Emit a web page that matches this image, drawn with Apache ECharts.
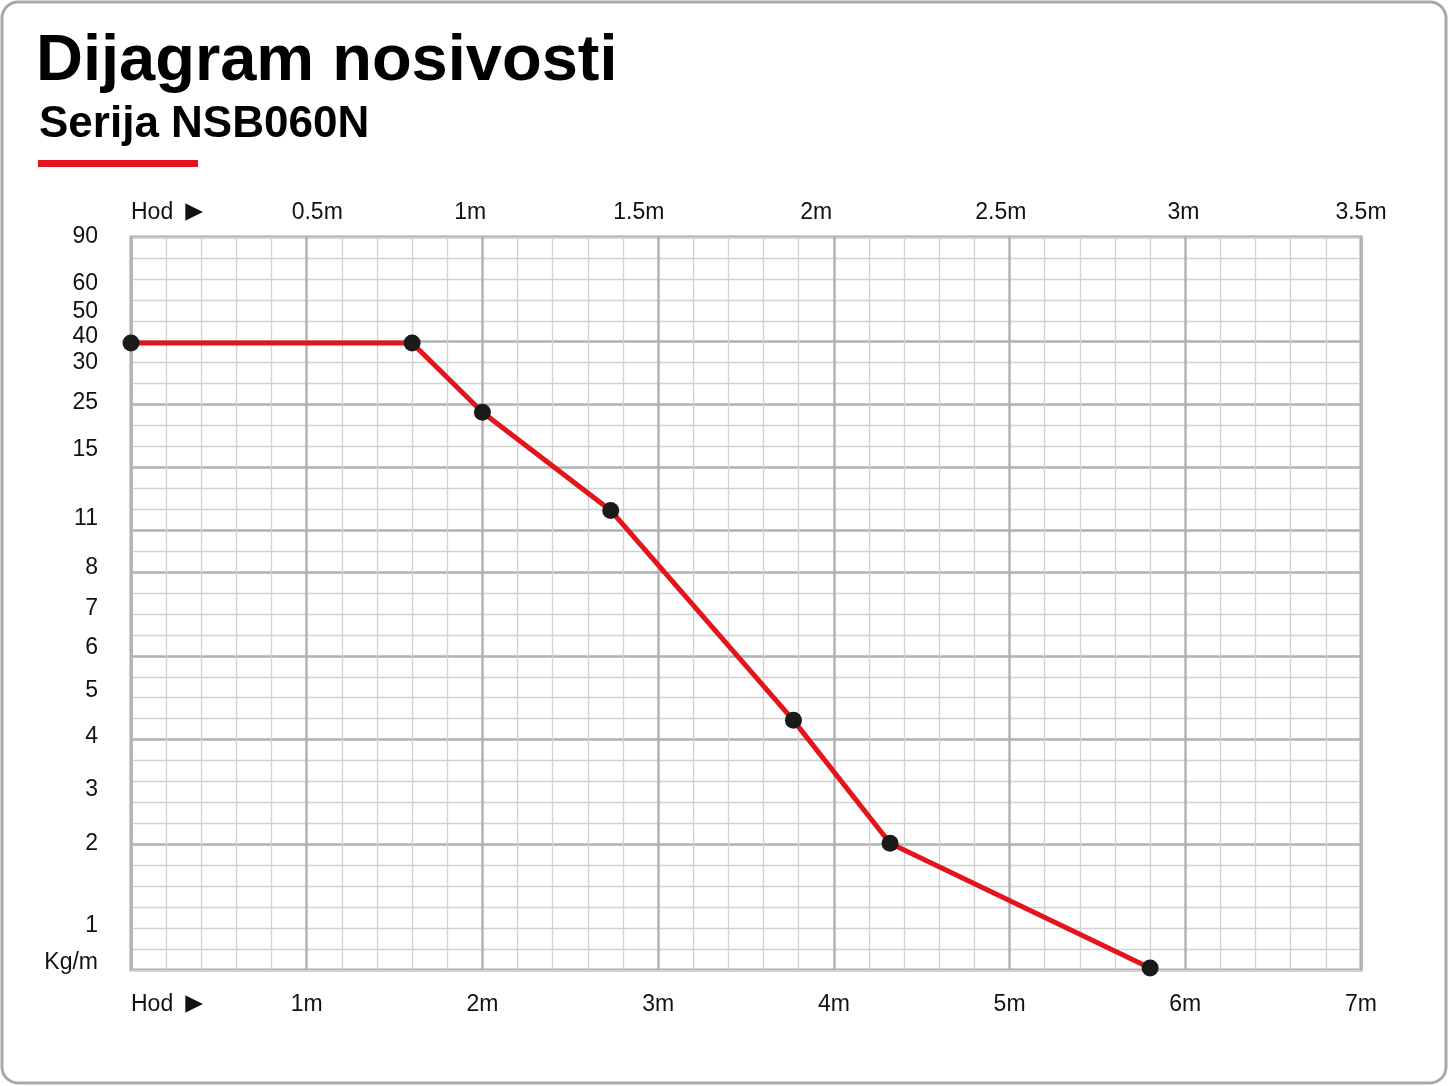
<!DOCTYPE html>
<html style="height: 100%">
<head>
<meta charset="utf-8">
</head>
<body style="height: 100%; margin: 0; background: #fff">
<div id="container" style="width: 1448px; height: 1086px"></div>
<script type="text/javascript" src="https://cdn.jsdelivr.net/npm/echarts@6/dist/echarts.min.js"></script>
<script type="text/javascript">
// stroke (m) on the bottom scale
var hodM = [0, 1.6, 2.0, 2.73, 3.77, 4.32, 5.8];
// load capacity (kg/m) at each point
var loadKg = [37.5, 37.5, 23, 11.5, 4.35, 2, 0];

// bottom axis labels, one per metre
var bottomLabels = ['Hod', '1m', '2m', '3m', '4m', '5m', '6m', '7m'];
// top axis labels and where they sit against the bottom scale
var topLabels = ['Hod', '0.5m', '1m', '1.5m', '2m', '2.5m', '3m', '3.5m'];
var topLabelAt = [0, 1.06, 1.93, 2.89, 3.9, 4.95, 5.99, 7];

// kg/m labels are not evenly spread: the chart sits on graph paper with
// 35 rows and each printed label is on its own row
var loadLabels = ['Kg/m', '1', '2', '3', '4', '5', '6', '7', '8', '11', '15', '25', '30', '40', '50', '60', '90'];
var loadLabelValue = [0, 1, 2, 3, 4, 5, 6, 7, 8, 11, 15, 25, 30, 40, 50, 60, 90];
var loadLabelRow = [0.1, 2.1, 6.05, 8.6, 11.15, 13.35, 15.37, 17.25, 19.19, 21.53, 24.84, 27.08, 28.99, 30.26, 31.45, 32.76, 35];
// heavier lines of the graph paper
var majorRows = [6, 11, 15, 19, 21, 24, 27, 30];

var RED = '#e5141c';
var FONT = 'Liberation Sans';

// kg/m -> paper row, straight between the printed labels
function loadToRow(kg) {
    for (var i = 1; i < loadLabelValue.length; i++) {
        if (kg <= loadLabelValue[i]) {
            var a = loadLabelValue[i - 1], b = loadLabelValue[i];
            var t = (kg - a) / (b - a);
            return loadLabelRow[i - 1] + t * (loadLabelRow[i] - loadLabelRow[i - 1]);
        }
    }
    return loadLabelRow[loadLabelRow.length - 1];
}

var points = hodM.map(function (x, i) {
    return { value: [x, loadToRow(loadKg[i])], kg: loadKg[i] };
});

// first label of both stroke axes gets the arrow
function hodLabel(text) {
    return text === 'Hod' ? '{h|Hod}{arr|▶}' : text;
}

var dom = document.getElementById('container');
var myChart = echarts.init(dom);

var minorLine = { color: '#d2d2d2', width: 1.3 };
var majorLine = { color: '#b3b3b3', width: 2.5 };
var labelStyle = { fontFamily: FONT, fontSize: 23, color: '#111' };
var hodRich = {
    h: { fontFamily: FONT, fontSize: 23, color: '#111', padding: [0, 12, 0, 0] },
    arr: { fontFamily: 'DejaVu Sans', fontSize: 23, color: '#111' }
};

var option = {
    animation: false,
    backgroundColor: '#fff',
    title: [{
        text: 'Dijagram nosivosti',
        left: 36,
        top: 30,
        padding: 0,
        textStyle: { fontFamily: FONT, fontSize: 65, fontWeight: 'bold', color: '#000' }
    }, {
        text: 'Serija NSB060N',
        left: 39,
        top: 103,
        padding: 0,
        textStyle: { fontFamily: FONT, fontSize: 44, fontWeight: 'bold', color: '#000' }
    }],
    graphic: [{
        type: 'rect',
        shape: { x: 2, y: 2, width: 1444, height: 1081, r: 16 },
        style: { fill: 'none', stroke: '#a8a8a8', lineWidth: 3 },
        silent: true
    }, {
        type: 'rect',
        shape: { x: 38, y: 160, width: 160, height: 7 },
        style: { fill: RED },
        silent: true
    }],
    grid: {
        left: 131,
        right: 87,
        top: 237,
        bottom: 116,
        show: true,
        borderColor: '#aaaaaa',
        borderWidth: 3
    },
    xAxis: [{
        type: 'value',
        position: 'bottom',
        min: 0,
        max: 7,
        interval: 1,
        axisLine: { show: false },
        axisTick: { show: false },
        minorTick: { show: false, splitNumber: 5 },
        splitLine: { show: true, lineStyle: majorLine },
        minorSplitLine: { show: true, lineStyle: minorLine },
        axisLabel: Object.assign({
            margin: 23,
            alignMinLabel: 'left',
            formatter: function (v) { return hodLabel(bottomLabels[Math.round(v)]); },
            rich: hodRich
        }, labelStyle)
    }, {
        type: 'value',
        position: 'top',
        min: 0,
        max: 7,
        axisLine: { show: false },
        axisTick: { show: false },
        splitLine: { show: false },
        axisLabel: Object.assign({
            margin: 13,
            alignMinLabel: 'left',
            customValues: topLabelAt,
            formatter: function (v) { return hodLabel(topLabels[topLabelAt.indexOf(v)]); },
            rich: hodRich
        }, labelStyle)
    }],
    yAxis: [{
        type: 'value',
        position: 'left',
        min: 0,
        max: 35,
        interval: 1,
        axisLine: { show: false },
        axisTick: { show: false },
        axisLabel: { show: false },
        splitLine: { show: true, lineStyle: minorLine }
    }, {
        type: 'value',
        position: 'left',
        min: 0,
        max: 35,
        axisLine: { show: false },
        axisTick: { show: false, customValues: majorRows },
        splitLine: { show: true, lineStyle: majorLine },
        axisLabel: Object.assign({
            margin: 33,
            customValues: loadLabelRow,
            formatter: function (v) {
                var i = loadLabelRow.indexOf(v);
                return i === 0 ? '{u|' + loadLabels[0] + '}' : loadLabels[i];
            },
            rich: { u: { fontFamily: FONT, fontSize: 23, color: '#111', padding: [0, 0, 10, 0] } }
        }, labelStyle)
    }],
    series: [{
        name: 'Nosivost',
        type: 'line',
        xAxisIndex: 0,
        yAxisIndex: 0,
        data: points,
        clip: false,
        symbol: 'circle',
        symbolSize: 17,
        itemStyle: { color: '#1a1a1a' },
        lineStyle: { color: RED, width: 5 },
        z: 5
    }]
};

if (option && typeof option === 'object') {
    myChart.setOption(option, true);
}
</script>
</body>
</html>
